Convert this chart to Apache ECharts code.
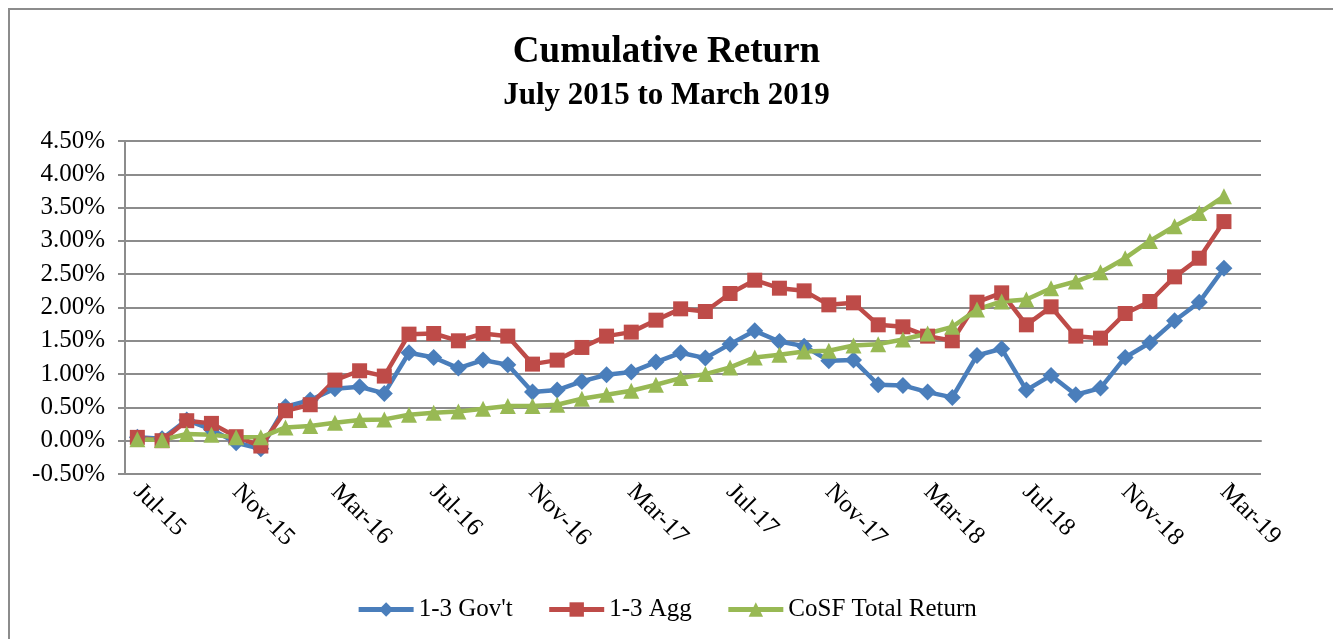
<!DOCTYPE html>
<html>
<head>
<meta charset="utf-8">
<script src="https://cdn.jsdelivr.net/npm/echarts@6/dist/echarts.min.js"></script>
<style>
  html, body { margin: 0; padding: 0; background: #fff; overflow: hidden; }
  #frame { position: absolute; left: 8px; top: 8px; width: 1400px; height: 700px; border: 2px solid #8c8c8c; }
  #myecharts { position: absolute; left: 0; top: 0; width: 1333px; height: 639px; }
</style>
</head>
<body>
<div id="frame"></div>
<div id="myecharts"></div>
<script>
// month labels, last one is an empty slot like in the original sheet
var months = ["Jul-15", "Aug-15", "Sep-15", "Oct-15", "Nov-15", "Dec-15",
  "Jan-16", "Feb-16", "Mar-16", "Apr-16", "May-16", "Jun-16", "Jul-16", "Aug-16", "Sep-16", "Oct-16", "Nov-16", "Dec-16",
  "Jan-17", "Feb-17", "Mar-17", "Apr-17", "May-17", "Jun-17", "Jul-17", "Aug-17", "Sep-17", "Oct-17", "Nov-17", "Dec-17",
  "Jan-18", "Feb-18", "Mar-18", "Apr-18", "May-18", "Jun-18", "Jul-18", "Aug-18", "Sep-18", "Oct-18", "Nov-18", "Dec-18",
  "Jan-19", "Feb-19", "Mar-19", "Apr-19"];

var govt = [0.05, 0.03, 0.31, 0.17, -0.03, -0.12, 0.51, 0.61, 0.78, 0.81, 0.71, 1.32,
  1.25, 1.09, 1.21, 1.14, 0.73, 0.76, 0.89, 0.99, 1.03, 1.18, 1.32, 1.24,
  1.45, 1.65, 1.49, 1.42, 1.20, 1.21, 0.84, 0.83, 0.73, 0.65, 1.28, 1.38,
  0.76, 0.98, 0.69, 0.79, 1.25, 1.47, 1.80, 2.08, 2.59];

var agg = [0.05, 0.00, 0.30, 0.26, 0.06, -0.08, 0.45, 0.54, 0.91, 1.05, 0.97, 1.60,
  1.61, 1.50, 1.61, 1.57, 1.15, 1.21, 1.40, 1.57, 1.63, 1.81, 1.98, 1.94,
  2.21, 2.41, 2.29, 2.25, 2.04, 2.07, 1.74, 1.71, 1.57, 1.50, 2.08, 2.22,
  1.74, 2.01, 1.57, 1.54, 1.91, 2.09, 2.46, 2.74, 3.29];

var cosf = [0.02, 0.01, 0.10, 0.09, 0.05, 0.05, 0.20, 0.22, 0.27, 0.31, 0.32, 0.39,
  0.42, 0.44, 0.48, 0.52, 0.52, 0.54, 0.63, 0.69, 0.75, 0.84, 0.94, 1.00,
  1.10, 1.25, 1.29, 1.34, 1.35, 1.43, 1.45, 1.52, 1.61, 1.71, 1.97, 2.09,
  2.12, 2.29, 2.39, 2.53, 2.74, 3.00, 3.22, 3.42, 3.67];

var serif = '"Liberation Serif", "Times New Roman", serif';
var grey = "#8c8c8c";

var myecharts = echarts.init(document.getElementById("myecharts"));
var option = {
  animation: false,
  title: [
    { text: "Cumulative Return", left: "center", top: 29,
      textStyle: { fontFamily: serif, fontSize: 37, fontWeight: "bold", color: "#000" } },
    { text: "July 2015 to March 2019", left: "center", top: 75,
      textStyle: { fontFamily: serif, fontSize: 31, fontWeight: "bold", color: "#000" } }
  ],
  legend: {
    top: 592,
    left: "center",
    itemWidth: 55,
    itemHeight: 18,
    itemGap: 34,
    lineStyle: { width: 5 },
    textStyle: { fontFamily: serif, fontSize: 25, color: "#000" },
    data: ["1-3 Gov't", "1-3 Agg", "CoSF Total Return"]
  },
  grid: { left: 125, right: 72, top: 141, bottom: 165 },
  xAxis: {
    type: "category",
    data: months,
    boundaryGap: true,
    axisLine: { lineStyle: { color: grey, width: 2 } },
    axisTick: { interval: 3, length: 7, lineStyle: { color: grey, width: 2 } },
    axisLabel: { interval: 3, rotate: -45, margin: 14, fontFamily: serif, fontSize: 25, color: "#000" },
    splitLine: { show: false }
  },
  yAxis: {
    type: "value",
    min: -0.5,
    max: 4.5,
    interval: 0.5,
    axisLine: { show: true, lineStyle: { color: grey, width: 2 } },
    axisTick: { show: true, length: 7, lineStyle: { color: grey, width: 2 } },
    axisLabel: {
      margin: 20, fontFamily: serif, fontSize: 25, color: "#000",
      formatter: function (v) { return v.toFixed(2) + "%"; }
    },
    splitLine: { lineStyle: { color: grey, width: 2 } }
  },
  series: [
    {
      name: "1-3 Gov't", type: "line", data: govt,
      symbol: "diamond", symbolSize: 17, showAllSymbol: true,
      lineStyle: { width: 4.5, color: "#4A7EBB" },
      itemStyle: { color: "#4A7EBB" }
    },
    {
      name: "1-3 Agg", type: "line", data: agg,
      symbol: "rect", symbolSize: 15, showAllSymbol: true,
      lineStyle: { width: 4.5, color: "#BE4B48" },
      itemStyle: { color: "#BE4B48" }
    },
    {
      name: "CoSF Total Return", type: "line", data: cosf,
      symbol: "triangle", symbolSize: 16, showAllSymbol: true,
      lineStyle: { width: 4.5, color: "#98B954" },
      itemStyle: { color: "#98B954" }
    }
  ]
};
myecharts.setOption(option);
</script>
</body>
</html>
